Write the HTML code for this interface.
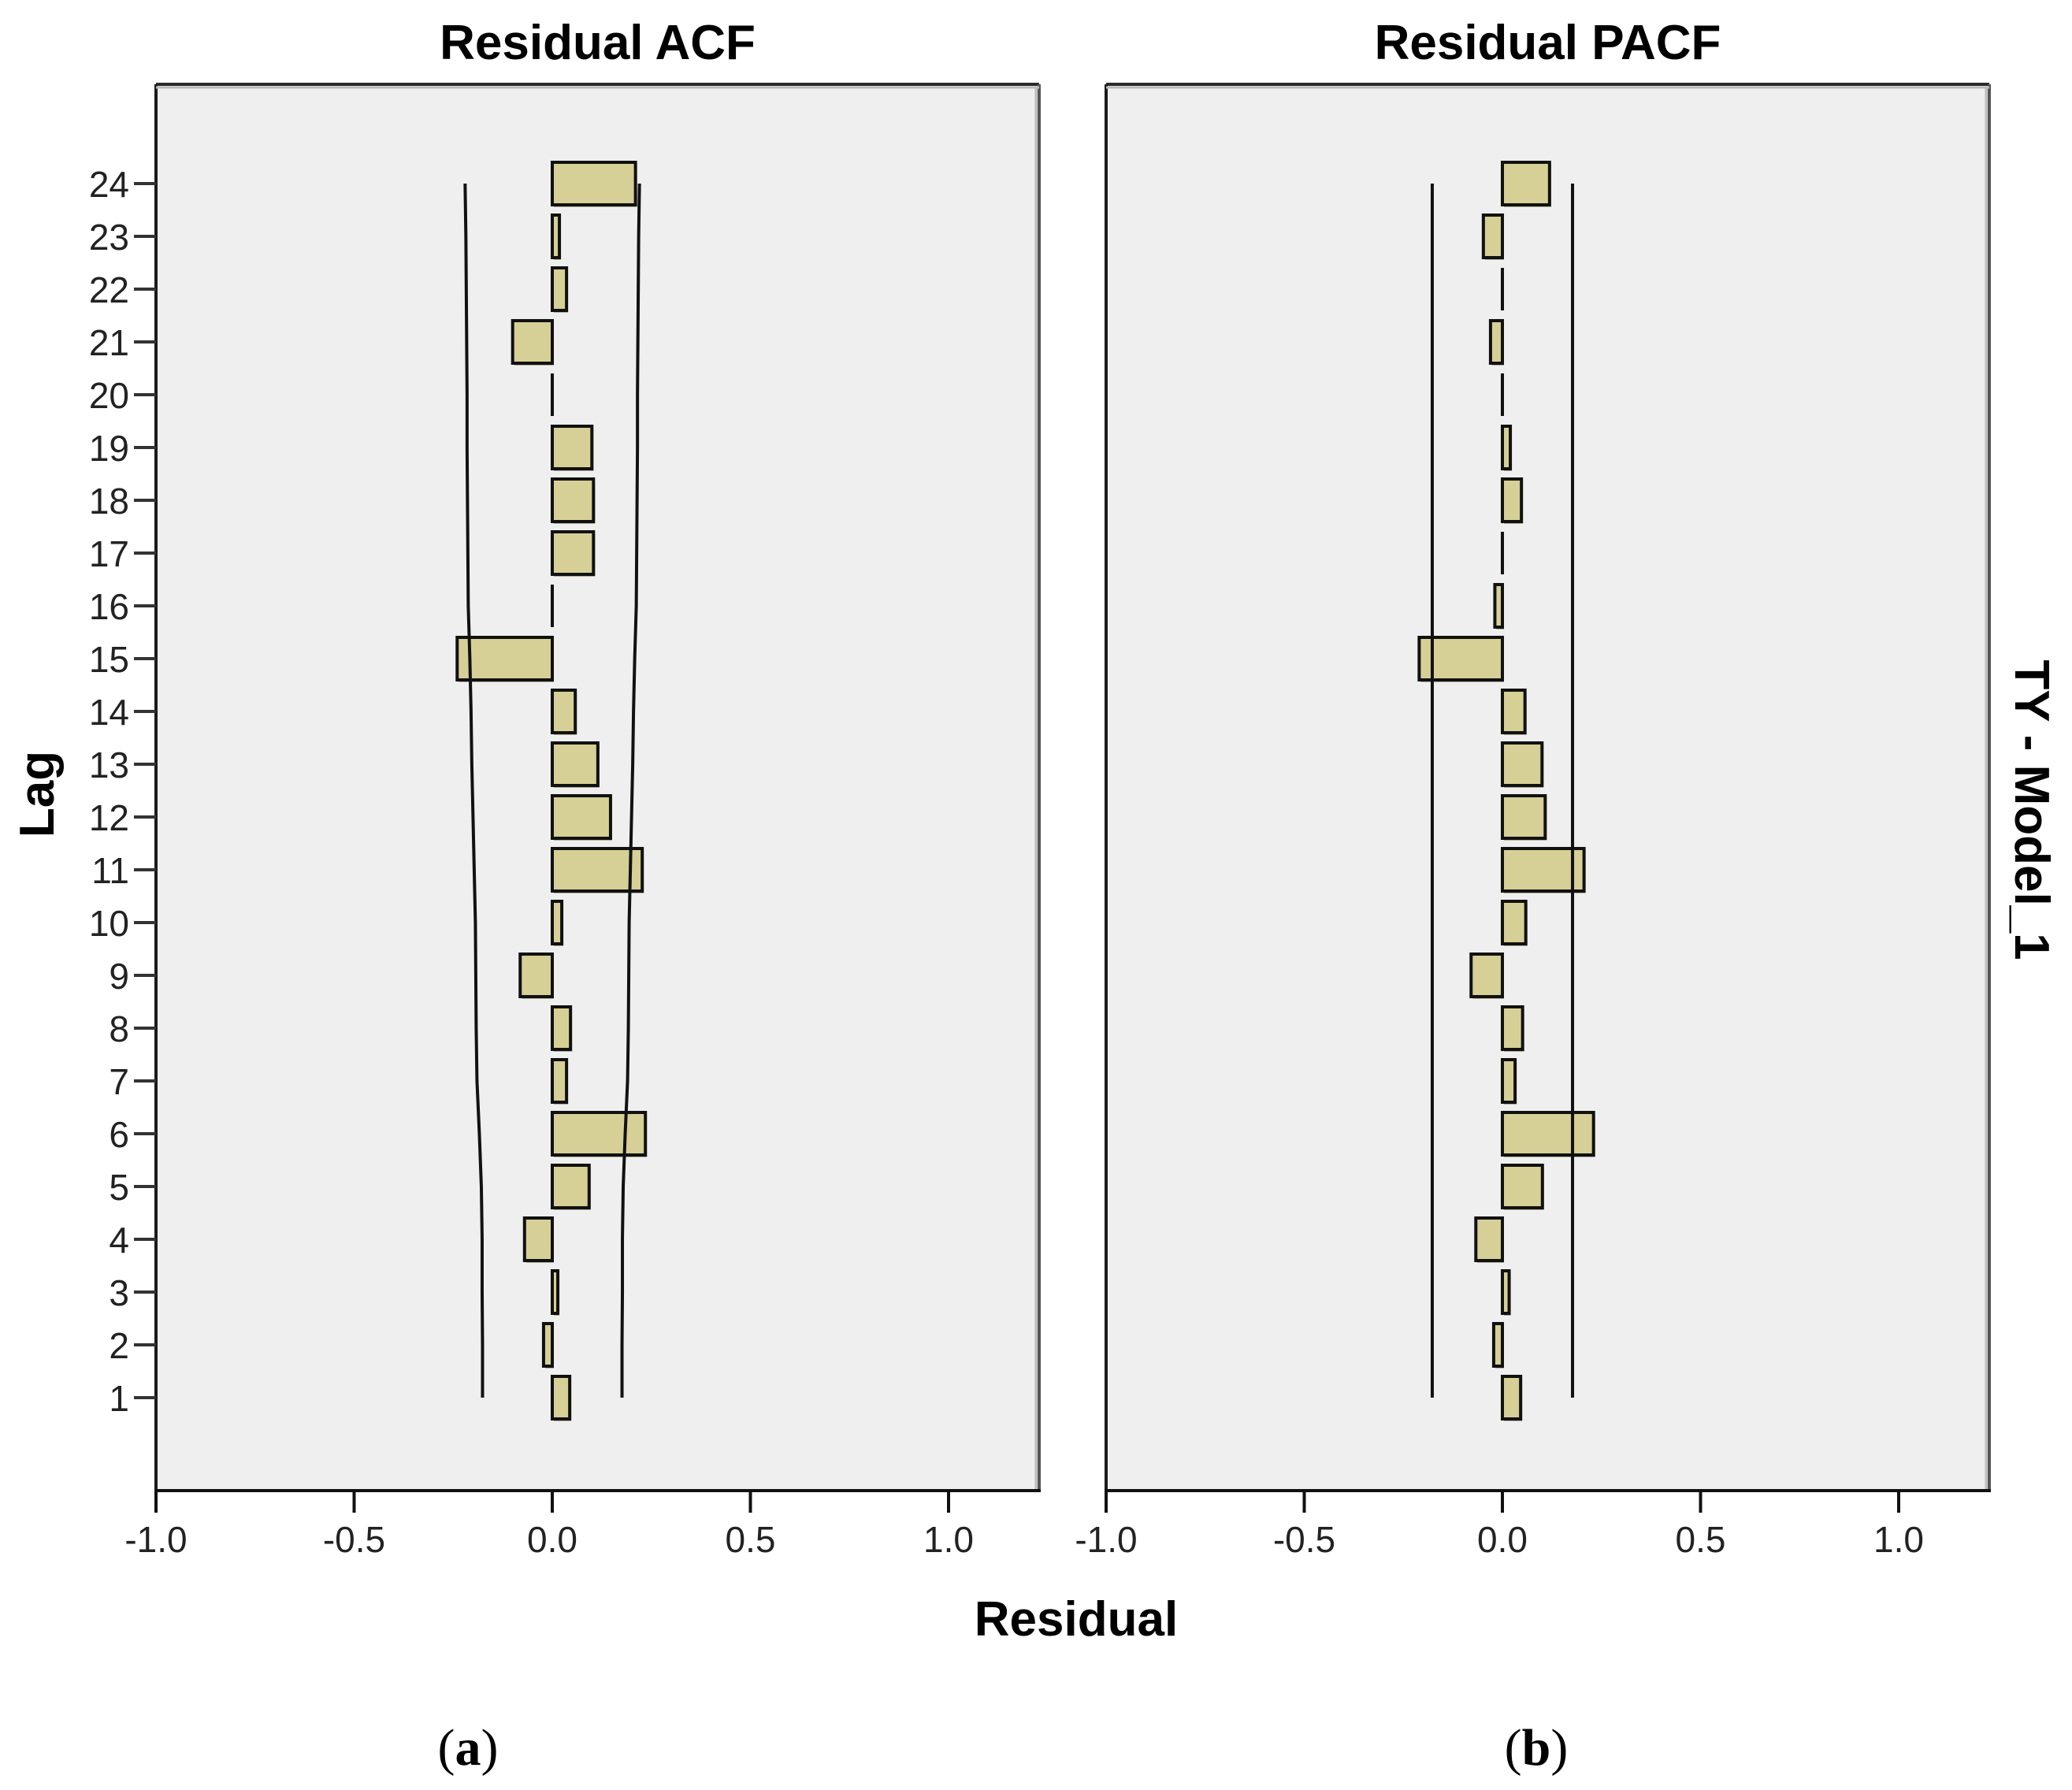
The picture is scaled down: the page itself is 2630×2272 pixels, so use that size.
<!DOCTYPE html>
<html><head><meta charset="utf-8">
<style>
html,body{margin:0;padding:0;background:#fff;}
svg{display:block;}
text{font-family:"Liberation Sans",Arial,sans-serif;}
</style></head>
<body>
<svg id="chart" width="2630" height="2272" viewBox="0 0 2630 2272" xmlns="http://www.w3.org/2000/svg"></svg>
<script>
const lags = [1,2,3,4,5,6,7,8,9,10,11,12,13,14,15,16,17,18,19,20,21,22,23,24];
const acfValues = [0.044,-0.022,0.014,-0.07,0.093,0.235,0.036,0.046,-0.081,0.024,0.227,0.147,0.115,0.058,-0.24,-0.002,0.104,0.104,0.10,0.0,-0.10,0.036,0.018,0.21];
const acfConfLimit = [0.176,0.176,0.177,0.177,0.179,0.184,0.19,0.192,0.193,0.194,0.197,0.2,0.203,0.205,0.208,0.212,0.213,0.214,0.215,0.215,0.216,0.217,0.218,0.22];
const pacfValues = [0.046,-0.022,0.017,-0.067,0.101,0.23,0.032,0.051,-0.079,0.059,0.206,0.108,0.1,0.057,-0.21,-0.019,0.005,0.048,0.02,0.0,-0.03,0.0,-0.048,0.119];
const pacfConfLimit = [0.177,0.177,0.177,0.177,0.177,0.177,0.177,0.177,0.177,0.177,0.177,0.177,0.177,0.177,0.177,0.177,0.177,0.177,0.177,0.177,0.177,0.177,0.177,0.177];
const xTicks = [-1.0,-0.5,0.0,0.5,1.0];
const xTickLabels = ["-1.0","-0.5","0.0","0.5","1.0"];

const NS = "http://www.w3.org/2000/svg";
const svg = document.getElementById('chart');
function mk(tag, attrs, parent){
  const e = document.createElementNS(NS, tag);
  for (const k in attrs) e.setAttribute(k, attrs[k]);
  (parent||svg).appendChild(e);
  return e;
}
const plotTop = 107, plotBottom = 1892;
const unit = 503;
const yOf = lag => 1774 - (lag-1)*67.0;
const barH = 54;

function panel(left, right, title, values, conf, showY, nameKey){
  const g = mk('g', {});
  
  
  const x0 = left + unit;
  const xOf = v => x0 + v*unit;
  const bg = mk('rect', {x:left, y:plotTop, width:right-left, height:plotBottom-plotTop, fill:'#efefef'}, g);
  
  
  mk('line', {x1:left, y1:plotTop, x2:right, y2:plotTop, stroke:'#2a2a2a', 'stroke-width':4}, g);
  mk('line', {x1:left, y1:plotTop, x2:left, y2:plotBottom, stroke:'#1a1a1a', 'stroke-width':4}, g);
  mk('line', {x1:right, y1:plotTop, x2:right, y2:plotBottom, stroke:'#555', 'stroke-width':4}, g);
  mk('line', {x1:right-4, y1:plotTop+3, x2:right-4, y2:plotBottom, stroke:'#bbb', 'stroke-width':3}, g);
  mk('line', {x1:left, y1:plotTop+4, x2:right, y2:plotTop+4, stroke:'#bbb', 'stroke-width':3}, g);
  const xa = mk('line', {x1:left-2, y1:plotBottom, x2:right+2, y2:plotBottom, stroke:'#111', 'stroke-width':4}, g);
  
  
  const t = mk('text', {x:(left+right)/2, y:75, 'text-anchor':'middle', 'font-size':62, 'font-weight':'bold'}, g);
  t.textContent = title;
  
  
  xTicks.forEach((v,i)=>{
    const x = xOf(v);
    mk('line', {x1:x, y1:plotBottom, x2:x, y2:plotBottom+28, stroke:'#111', 'stroke-width':4}, g);
    const tl = mk('text', {x:x, y:1970, 'text-anchor':'middle', 'font-size':46, fill:'#222'}, g);
    tl.textContent = xTickLabels[i];
    
    
  });
  lags.forEach((lag,i)=>{
    const y = yOf(lag);
    if (showY){
      mk('line', {x1:left-28, y1:y, x2:left, y2:y, stroke:'#333', 'stroke-width':4}, g);
      const yl = mk('text', {x:left-34, y:y+17, 'text-anchor':'end', 'font-size':46, fill:'#222'}, g);
      yl.textContent = String(lag);
      
      
    }
    const v = values[i];
    const xs = Math.min(xOf(0), xOf(v)), w = Math.abs(xOf(v)-xOf(0));
    if (w < 5){
      const ln = mk('line', {x1:xOf(0), y1:y-barH/2, x2:xOf(0), y2:y+barH/2, stroke:'#111', 'stroke-width':4}, g);
      
      
    } else {
      mk('rect', {x:xs+2, y:y-barH/2+3, width:w, height:barH, fill:'#8a8660', opacity:0.6}, g);
      const b = mk('rect', {x:xs, y:y-barH/2, width:w, height:barH, fill:'#d6d096', stroke:'#111', 'stroke-width':4}, g);
      
      
    }
  });
  let up = '', lo = '';
  lags.forEach((lag,i)=>{
    const y = yOf(lag);
    up += (i?'L':'M') + xOf(conf[i]) + ' ' + y;
    lo += (i?'L':'M') + xOf(-conf[i]) + ' ' + y;
  });
  const u = mk('path', {d:up, fill:'none', stroke:'#111', 'stroke-width':4}, g);
  
  
  const l = mk('path', {d:lo, fill:'none', stroke:'#111', 'stroke-width':4}, g);
  
  
}
panel(198, 1319, 'Residual ACF', acfValues, acfConfLimit, true, 'acf');
panel(1404, 2525, 'Residual PACF', pacfValues, pacfConfLimit, false, 'pacf');

const lagT = mk('text', {x:0, y:0, 'text-anchor':'middle', 'font-size':62, 'font-weight':'bold', transform:'translate(68,1008) rotate(-90)'});
lagT.textContent = 'Lag';


const resT = mk('text', {x:1366, y:2076, 'text-anchor':'middle', 'font-size':62, 'font-weight':'bold'});
resT.textContent = 'Residual';


const modT = mk('text', {x:0, y:0, 'text-anchor':'middle', 'font-size':62, 'font-weight':'bold', transform:'translate(2558,1028) rotate(90)'});
modT.textContent = 'TY - Model_1';


const aT = mk('text', {x:594, y:2240, 'text-anchor':'middle', 'font-size':66, style:'font-family:"Liberation Serif",serif'});
aT.innerHTML = '(<tspan font-weight="bold">a</tspan>)';


const bT = mk('text', {x:1950, y:2240, 'text-anchor':'middle', 'font-size':66, style:'font-family:"Liberation Serif",serif'});
bT.innerHTML = '(<tspan font-weight="bold">b</tspan>)';


</script>
</body></html>
